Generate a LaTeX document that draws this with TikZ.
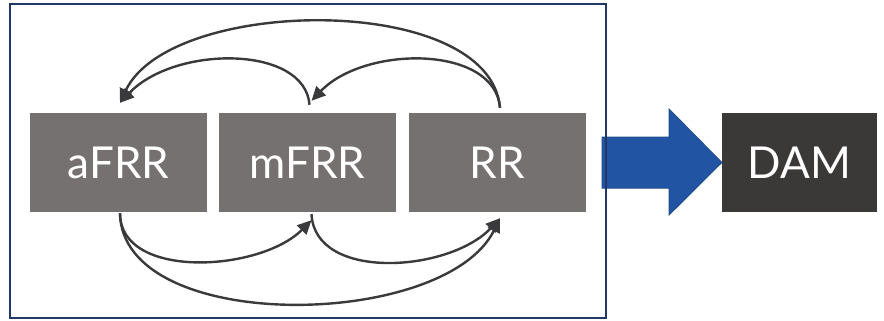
\documentclass[tikz,border=0pt]{standalone}
\usepackage{fontspec}
\setmainfont{Lato}
\usetikzlibrary{arrows.meta}
\definecolor{boxgray}{HTML}{767171}
\definecolor{boxdark}{HTML}{3B3838}
\definecolor{framebl}{HTML}{203864}
\definecolor{arrowbl}{HTML}{2155A3}
\definecolor{arrowed}{HTML}{1F4E8C}
\definecolor{linkcol}{HTML}{3A3A3C}
\tikzset{
  market/.style={fill=boxgray, text=white, inner sep=0pt,
    minimum width=177pt, minimum height=99pt, font=\fontsize{44}{48}\selectfont},
  spot/.style={market, fill=boxdark, minimum width=155pt},
  link/.style={draw=linkcol, line width=2.4pt,
    -{Triangle[length=14pt,width=13pt]}}
}
\begin{document}
\begin{tikzpicture}[x=1pt,y=-1pt]
  \useasboundingbox (0,0) rectangle (884,321);
  % market boxes
  \node[market] (afrr) at (118.5,162.5) {aFRR};
  \node[market] (mfrr) at (307.5,162.5) {mFRR};
  \node[market] (rr)   at (497,162.5) {RR};
  \node[spot]   (dam)  at (799.5,162.5) {DAM};
  % block arrow to the day-ahead market
  \draw[fill=arrowbl, draw=arrowed, line width=1pt]
    (602,137) -- (669,137) -- (669,109) -- (dam.west) -- (669,215)
    -- (669,188) -- (602,188) -- cycle;
  % frame around the balancing products
  \draw[framebl, line width=2pt] (10,4) rectangle (606,318);
  % upward substitutions
  \draw[link] ([xshift=2pt,yshift=8pt]mfrr.north)
    .. controls (305,45) and (175,45) .. ([xshift=1.5pt,yshift=10pt]afrr.north);
  \draw[link] ([xshift=3pt,yshift=5pt]rr.north)
    .. controls (490,-8) and (170,-4) .. ([xshift=1.5pt,yshift=10pt]afrr.north);
  \draw[link] ([xshift=3pt,yshift=5pt]rr.north)
    .. controls (495,45) and (365,45) .. ([xshift=4pt,yshift=12pt]mfrr.north);
  % downward substitutions
  \draw[link] ([xshift=1.5pt,yshift=-1pt]afrr.south)
    .. controls (120,280) and (260,272) .. ([xshift=4pt,yshift=-8pt]mfrr.south);
  \draw[link] ([xshift=4pt,yshift=-2pt]mfrr.south)
    .. controls (315,282) and (450,272) .. ([xshift=3pt,yshift=-6pt]rr.south);
  \draw[link] ([xshift=1.5pt,yshift=-1pt]afrr.south)
    .. controls (122,335) and (445,330) .. ([xshift=3pt,yshift=-6pt]rr.south);
\end{tikzpicture}
\end{document}
